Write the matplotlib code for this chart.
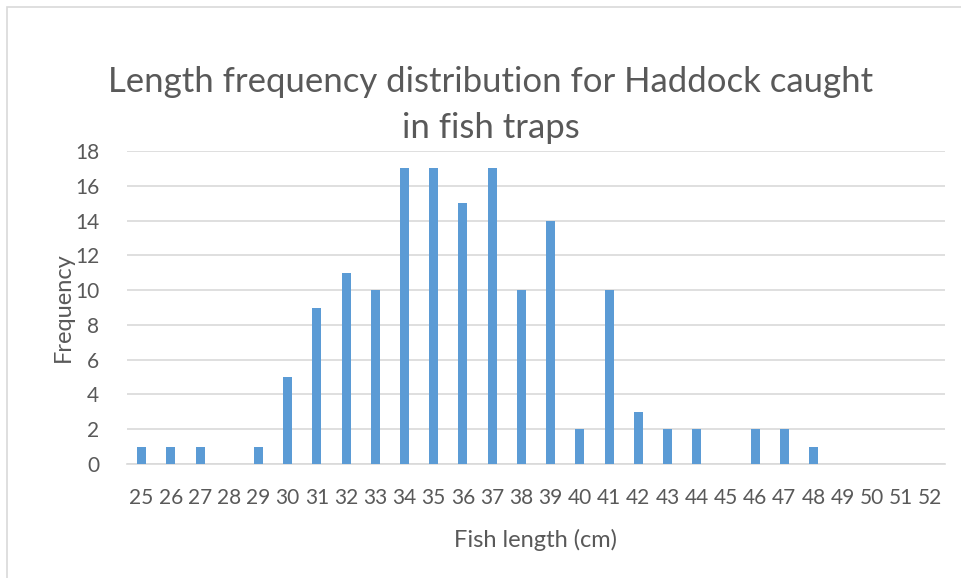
import matplotlib.pyplot as plt
from matplotlib.patches import Rectangle

# fish length classes (cm) and counts
lengths = list(range(25, 53))
counts = [1, 1, 1, 0, 1, 5, 9, 11, 10, 17, 17, 15, 17, 10, 14, 2,
          10, 3, 2, 2, 0, 2, 2, 1, 0, 0, 0, 0]
y_ticks = list(range(0, 19, 2))

TEXT = "#595959"
GRID = "#d9d9d9"
BAR = "#5b9bd5"

plt.rcParams["font.family"] = ["Lato", "DejaVu Sans"]

fig = plt.figure(figsize=(9.62, 5.78), dpi=100)
fig.patch.set_facecolor("white")

# outer chart frame (cropped on the right and bottom in the source)
fig.add_artist(Rectangle((7 / 962, -0.01), 1.05, 1 - 7 / 578 + 0.01,
                         transform=fig.transFigure, fill=False,
                         edgecolor=GRID, linewidth=1.2))

ax = fig.add_axes([127 / 962, 1 - 464 / 578, (945 - 127) / 962, (464 - 151) / 578])
pos = list(range(len(lengths)))
ax.bar(pos, counts, width=0.31, color=BAR, zorder=3)

ax.set_xlim(-0.5, len(lengths) - 0.5)
ax.set_ylim(0, 18)
ax.set_yticks(y_ticks)
ax.set_xticks(pos)
ax.set_xticklabels([str(v) for v in lengths])
ax.tick_params(axis="both", length=0, labelsize=15, colors=TEXT)
ax.tick_params(axis="x", pad=17)
ax.tick_params(axis="y", pad=20)
ax.grid(axis="y", color=GRID, linewidth=1.2, zorder=0)
for side in ("top", "right", "left"):
    ax.spines[side].set_visible(False)
ax.spines["bottom"].set_color(GRID)
ax.spines["bottom"].set_linewidth(1.2)

ax.set_xlabel("Fish length (cm)", fontsize=17, color=TEXT, labelpad=15)
ax.set_ylabel("Frequency", fontsize=17, color=TEXT, labelpad=1)

fig.text(491 / 962, 1 - 105 / 578,
         "Length frequency distribution for Haddock caught\nin fish traps",
         ha="center", va="center", fontsize=25, color=TEXT, linespacing=1.5)

fig.savefig("out.png", dpi=100)
